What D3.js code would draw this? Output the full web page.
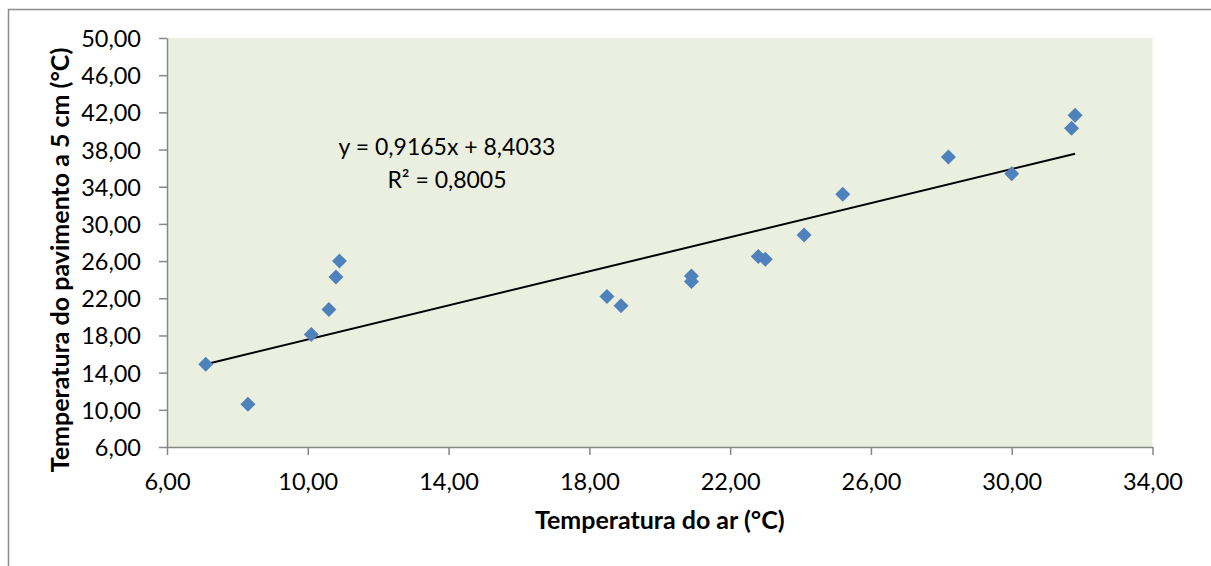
<!DOCTYPE html>
<html>
<head lang="pt">
    <meta charset="UTF-8">
    <script src="https://cdn.jsdelivr.net/npm/d3@7/dist/d3.min.js" charset="utf-8"></script>
    <title></title>
    <style>
        body { margin: 0; background: #fff; }
        svg text { font-family: Lato, "Open Sans", sans-serif; fill: #000; }
    </style>
</head>
<body>
<div id="chart"></div>

<script>
    // air temperature (x) vs pavement temperature at 5 cm (y)
    var airTemp = [7.1, 8.3, 10.1, 10.6, 10.8, 10.9, 18.5, 18.9, 20.9, 20.9, 22.8, 23.0, 24.1, 25.2, 28.2, 30.0, 31.7, 31.8];
    var paveTemp = [14.9, 10.6, 18.1, 20.8, 24.3, 26.0, 22.2, 21.2, 24.4, 23.8, 26.5, 26.2, 28.8, 33.2, 37.2, 35.4, 40.3, 41.7];

    var xTicks = [6, 10, 14, 18, 22, 26, 30, 34];
    var yTicks = [6, 10, 14, 18, 22, 26, 30, 34, 38, 42, 46, 50];

    // linear trend shown on the chart
    var slope = 0.9165, intercept = 8.4033, r2 = 0.8005;
    var eqLines = ["y = 0,9165x + 8,4033", "R\u00b2 = 0,8005"];

    var xTitle = "Temperatura do ar (\u00b0C)";
    var yTitle = "Temperatura do pavimento a 5 cm (\u00b0C)";

    var W = 1211, H = 566;
    var plot = {left: 167, top: 38, right: 1152.5, bottom: 447};

    var ptBR = d3.formatLocale({decimal: ",", thousands: ".", grouping: [3], currency: ["", ""]});
    var fmt = ptBR.format(".2f");

    var svg = d3.select("#chart").append("svg")
            .attr("width", W)
            .attr("height", H);

    // outer chart border (runs off the page right and bottom)
    svg.append("rect")
            .attr("x", 8.5).attr("y", 9.5)
            .attr("width", 1400).attr("height", 800)
            .attr("fill", "none")
            .attr("stroke", "#8c8c8c")
            .attr("stroke-width", 1.5);

    var x = d3.scaleLinear().domain([6, 34]).range([plot.left, plot.right]);
    var y = d3.scaleLinear().domain([6, 50]).range([plot.bottom, plot.top]);

    svg.append("rect")
            .attr("x", plot.left).attr("y", plot.top)
            .attr("width", plot.right - plot.left)
            .attr("height", plot.bottom - plot.top)
            .attr("fill", "#ebefdf");

    var xAxis = svg.append("g")
            .attr("transform", "translate(0," + plot.bottom + ")")
            .call(d3.axisBottom(x).tickValues(xTicks).tickFormat(fmt).tickSize(8).tickSizeOuter(0).tickPadding(18));
    var yAxis = svg.append("g")
            .attr("transform", "translate(" + plot.left + ",0)")
            .call(d3.axisLeft(y).tickValues(yTicks).tickFormat(fmt).tickSize(8).tickSizeOuter(0).tickPadding(18));

    [xAxis, yAxis].forEach(function(g) {
        g.select(".domain").attr("stroke", "#878787").attr("stroke-width", 1.5);
        g.selectAll(".tick line").attr("stroke", "#878787").attr("stroke-width", 1.5);
        g.selectAll(".tick text").style("font-size", "23.5px").attr("fill", "#000");
    });
    xAxis.selectAll(".tick text").attr("dy", "0.72em");
    yAxis.selectAll(".tick text").attr("dy", "0.36em");

    // trendline over the data range
    var xmin = d3.min(airTemp), xmax = d3.max(airTemp);
    svg.append("line")
            .attr("x1", x(xmin)).attr("y1", y(slope * xmin + intercept))
            .attr("x2", x(xmax)).attr("y2", y(slope * xmax + intercept))
            .attr("stroke", "#000")
            .attr("stroke-width", 2);

    var pts = airTemp.map(function(v, i) { return {x: v, y: paveTemp[i]}; });
    svg.append("g").selectAll("path")
            .data(pts)
            .enter().append("path")
            .attr("d", d3.symbol().type(d3.symbolSquare).size(112))
            .attr("transform", function(d) {
                return "translate(" + x(d.x) + "," + y(d.y) + ") rotate(45)";
            })
            .attr("fill", "#4f81bd");

    svg.append("g").selectAll("text")
            .data(eqLines)
            .enter().append("text")
            .attr("x", 447)
            .attr("y", function(d, i) { return 155 + i * 33; })
            .attr("text-anchor", "middle")
            .style("font-size", "23px")
            .text(function(d) { return d; });

    svg.append("text")
            .attr("x", (plot.left + plot.right) / 2)
            .attr("y", 529)
            .attr("text-anchor", "middle")
            .style("font-size", "25px")
            .style("font-weight", "bold")
            .text(xTitle);

    svg.append("text")
            .attr("transform", "translate(69,260) rotate(-90)")
            .attr("text-anchor", "middle")
            .style("font-size", "25px")
            .style("font-weight", "bold")
            .text(yTitle);
</script>
</body>
</html>
